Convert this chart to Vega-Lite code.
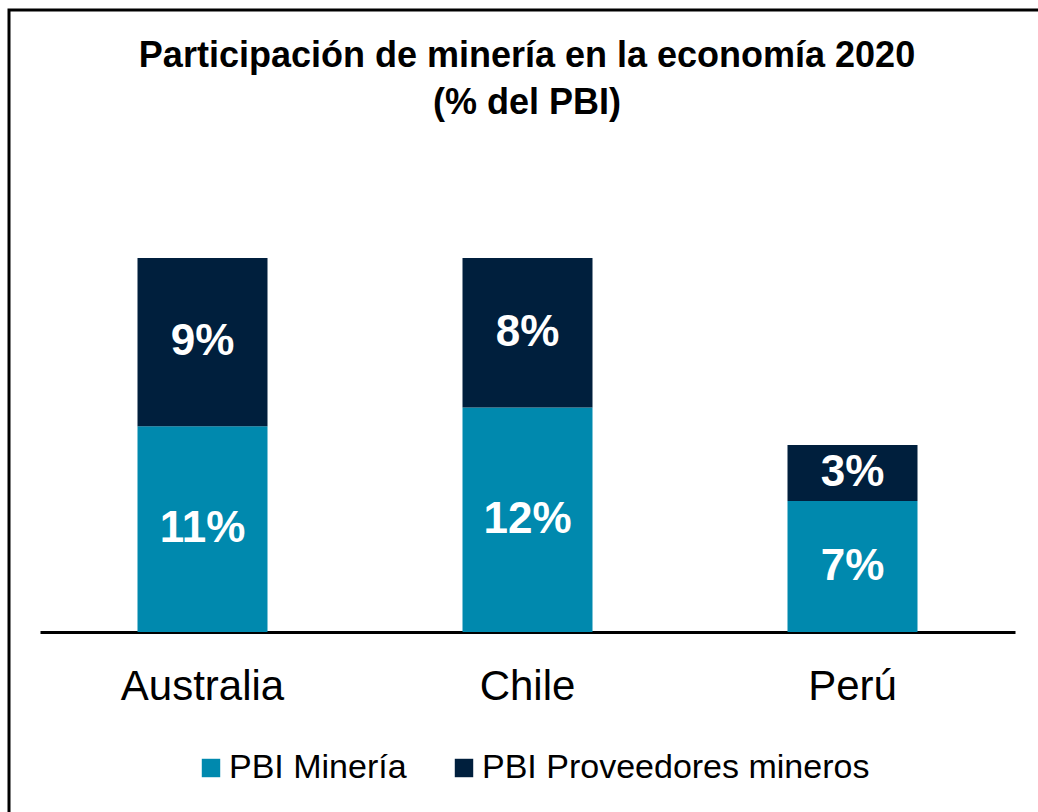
{
  "$schema": "https://vega.github.io/schema/vega-lite/v6.json",
  "width": 1040,
  "height": 813,
  "autosize": {"type": "none"},
  "padding": {"left": 9, "top": 10, "right": -11, "bottom": -11},
  "background": "white",
  "config": {"view": {"stroke": "black", "strokeWidth": 3}, "font": "Liberation Sans"},
  "title": {
    "text": ["Participación de minería en la economía 2020", "(% del PBI)"],
    "fontSize": 36,
    "fontWeight": "bold",
    "font": "Liberation Sans",
    "color": "black",
    "lineHeight": 47,
    "anchor": "middle",
    "frame": "group",
    "offset": -112,
    "dx": -2
  },
  "data": {
    "values": [
      {"pais": "Australia", "serie": "PBI Minería", "valor": 0.11},
      {"pais": "Australia", "serie": "PBI Proveedores mineros", "valor": 0.09},
      {"pais": "Chile", "serie": "PBI Minería", "valor": 0.12},
      {"pais": "Chile", "serie": "PBI Proveedores mineros", "valor": 0.08},
      {"pais": "Perú", "serie": "PBI Minería", "valor": 0.07},
      {"pais": "Perú", "serie": "PBI Proveedores mineros", "valor": 0.03}
    ]
  },
  "encoding": {
    "x": {
      "field": "pais",
      "type": "nominal",
      "sort": ["Australia", "Chile", "Perú"],
      "scale": {"range": [31, 1006], "paddingInner": 0.6, "paddingOuter": 0.3},
      "axis": {
        "title": null,
        "orient": "bottom",
        "offset": -191,
        "domainColor": "black",
        "domainWidth": 3,
        "ticks": false,
        "labelFontSize": 42,
        "labelFont": "Liberation Sans",
        "labelColor": "black",
        "labelPadding": 34,
        "labelAngle": 0,
        "grid": false
      }
    },
    "y": {
      "field": "valor",
      "type": "quantitative",
      "stack": "zero",
      "scale": {"domain": [0, 0.2], "range": [622, 248], "nice": false, "zero": true},
      "axis": null
    },
    "order": {"field": "serie", "sort": "ascending"}
  },
  "layer": [
    {
      "mark": {"type": "bar"},
      "encoding": {
        "color": {
          "field": "serie",
          "type": "nominal",
          "scale": {"domain": ["PBI Minería", "PBI Proveedores mineros"], "range": ["#0089AE", "#001F3D"]},
          "legend": {
            "orient": "none",
            "legendX": 185,
            "legendY": 741,
            "direction": "horizontal",
            "title": null,
            "symbolType": "square",
            "symbolSize": 340,
            "symbolStrokeWidth": 0,
            "labelFontSize": 34,
            "labelColor": "black",
            "labelFont": "Liberation Sans",
            "labelOffset": 1,
            "columnPadding": 40,
            "labelLimit": 600
          }
        }
      }
    },
    {
      "mark": {"type": "text", "color": "white", "fontSize": 44, "fontWeight": "bold", "baseline": "middle", "font": "Liberation Sans"},
      "encoding": {
        "y": {"field": "valor", "type": "quantitative", "stack": "zero", "bandPosition": 0.5},
        "detail": {"field": "serie"},
        "text": {"field": "valor", "type": "quantitative", "format": ".0%"}
      }
    }
  ]
}
